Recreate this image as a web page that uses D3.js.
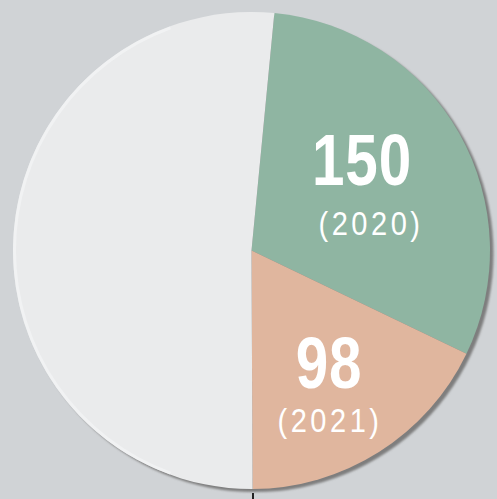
<!DOCTYPE html>
<html>
<head>
<meta charset="utf-8">
<script src="https://cdn.jsdelivr.net/npm/d3@7"></script>
<style>
  html, body { margin: 0; padding: 0; background: #d0d3d6; }
  svg { display: block; }
</style>
</head>
<body>
<svg id="pie" width="497" height="499"></svg>
<script>
// values printed on the slices, and the slice sizes (percent of circle)
const years = ["2020", "2021", ""];
const values = [150, 98, null];
const shares = [30.6, 17.8, 51.6];
const colors = ["#8fb5a2", "#e0b69e", "#eaebec"];

let svg = d3.select("#pie");
const width = +svg.attr("width");
const height = +svg.attr("height");

const cx = 251.5, cy = 250.5, r = 238.5;

let g = svg.append("g").attr("transform", `translate(${cx},${cy})`);

// drop shadow
let defs = svg.append("defs");
defs.append("filter").attr("id", "blur")
  .append("feGaussianBlur").attr("stdDeviation", 0.8);

g.append("circle")
  .attr("cx", 3.5).attr("cy", 3).attr("r", r)
  .attr("fill", "#7e7e7e")
  .attr("filter", "url(#blur)");

let pie = d3.pie()
  .sort(null)
  .startAngle(5.5 * Math.PI / 180)
  .endAngle(365.5 * Math.PI / 180)
  .value(d => d);

let arc = d3.arc().innerRadius(0).outerRadius(r);

let arcs = pie(shares);

g.selectAll("path.slice").data(arcs)
  .join("path")
  .attr("class", "slice")
  .attr("d", arc)
  .attr("fill", (d, i) => colors[i]);

// light rim on the left edge
g.append("path")
  .attr("d", d3.arc().innerRadius(r - 3).outerRadius(r)
    .startAngle(200 * Math.PI / 180).endAngle(340 * Math.PI / 180)())
  .attr("fill", "#f4f5f6")
  .attr("opacity", 0.7);

// labels: condensed look made by squeezing Liberation Sans
const font = "'Liberation Sans', Arial, sans-serif";
const labelPos = [[362, 185, 371, 235], [329, 388, 330, 432]];

values.forEach((v, i) => {
  if (v === null) return;
  let p = labelPos[i];
  svg.append("text")
    .attr("transform", `translate(${p[0]},${p[1]}) scale(0.8,1)`)
    .attr("text-anchor", "middle")
    .attr("fill", "#ffffff")
    .style("font-family", font)
    .style("font-weight", "bold")
    .style("font-size", "73px")
    .style("letter-spacing", "1px")
    .text(v);
  svg.append("text")
    .attr("transform", `translate(${p[2]},${p[3]}) scale(0.88,1)`)
    .attr("text-anchor", "middle")
    .attr("fill", "#ffffff")
    .style("font-family", font)
    .style("font-size", "33px")
    .style("letter-spacing", "4px")
    .text(`(${years[i]})`);
});

// small tick under the circle
svg.append("line")
  .attr("x1", 253).attr("x2", 253)
  .attr("y1", 493).attr("y2", height)
  .attr("stroke", "#222").attr("stroke-width", 2);
</script>
</body>
</html>
